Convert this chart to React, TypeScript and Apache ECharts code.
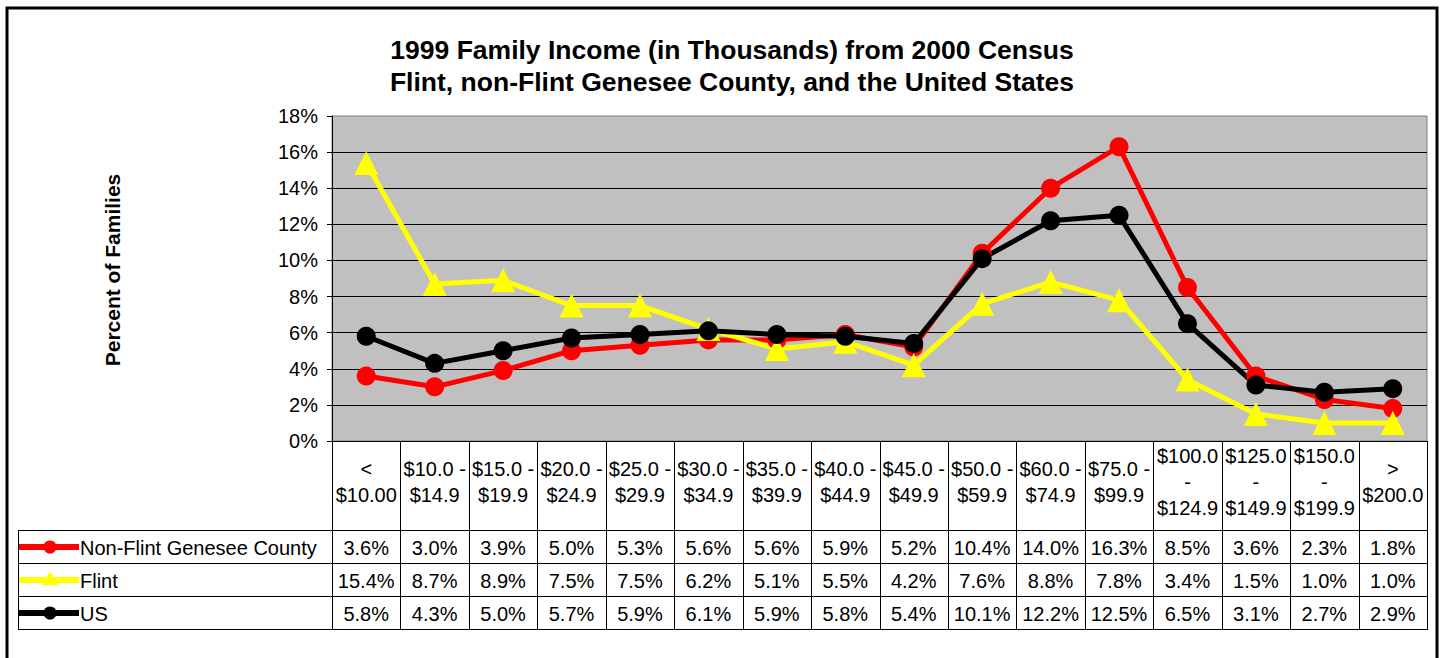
import React, { useEffect, useRef } from "react";
import * as echarts from "echarts";

const categories = [
  "<\n$10.00", "$10.0 -\n$14.9", "$15.0 -\n$19.9", "$20.0 -\n$24.9",
  "$25.0 -\n$29.9", "$30.0 -\n$34.9", "$35.0 -\n$39.9", "$40.0 -\n$44.9",
  "$45.0 -\n$49.9", "$50.0 -\n$59.9", "$60.0 -\n$74.9", "$75.0 -\n$99.9",
  "$100.0\n-\n$124.9", "$125.0\n-\n$149.9", "$150.0\n-\n$199.9", ">\n$200.0",
];
const nonFlint = [3.6, 3.0, 3.9, 5.0, 5.3, 5.6, 5.6, 5.9, 5.2, 10.4, 14.0, 16.3, 8.5, 3.6, 2.3, 1.8];
const flint = [15.4, 8.7, 8.9, 7.5, 7.5, 6.2, 5.1, 5.5, 4.2, 7.6, 8.8, 7.8, 3.4, 1.5, 1.0, 1.0];
const us = [5.8, 4.3, 5.0, 5.7, 5.9, 6.1, 5.9, 5.8, 5.4, 10.1, 12.2, 12.5, 6.5, 3.1, 2.7, 2.9];
const seriesNames = ["Non-Flint Genesee County", "Flint", "US"];
const yTicks = { min: 0, max: 18, interval: 2 };
const titleText = "1999 Family Income (in Thousands) from 2000 Census\nFlint, non-Flint Genesee County, and the United States";
const yAxisTitle = "Percent of Families";

const W = 1442, H = 658;
const GL = 332, GR = 1427, GT = 116, GB = 441;
const ROW_TOP = 530, ROW_H = 33, LEG_L = 18;
const FONT = "'Liberation Sans', Arial, sans-serif";

export default function App() {
  const ref = useRef<HTMLDivElement>(null);
  useEffect(() => {
    if (!ref.current) return;
    const chart = echarts.init(ref.current, null, { renderer: "svg" });
    const data = [nonFlint, flint, us];
    const colors = ["#FF0000", "#FFFF00", "#000000"];
    const symbols = ["circle", "triangle", "circle"];
    const symSizes = [19, 24, 19];
    const n = categories.length;
    const colW = (GR - GL) / n;
    const graphics: any[] = [];
    // outer frame
    graphics.push({ type: "rect", shape: { x: 7, y: 8, width: 1430, height: 700 }, style: { fill: "none", stroke: "#000", lineWidth: 3 }, silent: true });
    // vertical table lines
    for (let i = 0; i <= n; i++) {
      const x = Math.round(GL + i * colW) + 0.5;
      graphics.push({ type: "line", shape: { x1: x, y1: GB, x2: x, y2: ROW_TOP + 3 * ROW_H }, style: { stroke: "#000", lineWidth: 1 }, silent: true });
    }
    graphics.push({ type: "line", shape: { x1: LEG_L + 0.5, y1: ROW_TOP, x2: LEG_L + 0.5, y2: ROW_TOP + 3 * ROW_H }, style: { stroke: "#000", lineWidth: 1 }, silent: true });
    for (let r = 0; r <= 3; r++) {
      const y = ROW_TOP + r * ROW_H + 0.5;
      graphics.push({ type: "line", shape: { x1: LEG_L, y1: y, x2: GR + 1, y2: y }, style: { stroke: "#000", lineWidth: 1 }, silent: true });
    }
    // rows
    for (let s = 0; s < 3; s++) {
      const cy = ROW_TOP + s * ROW_H + ROW_H / 2 + 0.5;
      graphics.push({ type: "line", shape: { x1: LEG_L + 1, y1: cy, x2: 79, y2: cy }, style: { stroke: colors[s], lineWidth: 6 }, silent: true });
      if (symbols[s] === "circle") {
        graphics.push({ type: "circle", shape: { cx: 50, cy, r: 6.5 }, style: { fill: colors[s] }, silent: true });
      } else {
        graphics.push({ type: "polygon", shape: { points: [[50, cy - 9], [42, cy + 5], [58, cy + 5]] }, style: { fill: colors[s] }, silent: true });
      }
      graphics.push({ type: "text", x: 80, y: cy + 1, style: { text: seriesNames[s], fill: "#000", fontSize: 20, fontFamily: FONT, align: "left", verticalAlign: "middle" }, silent: true });
      data[s].forEach((v, i) => {
        graphics.push({ type: "text", x: GL + (i + 0.5) * colW, y: cy + 1, style: { text: v.toFixed(1) + "%", fill: "#000", fontSize: 20, fontFamily: FONT, align: "center", verticalAlign: "middle" }, silent: true });
      });
    }
    // y axis title
    graphics.push({ type: "text", x: 112, y: 270, rotation: Math.PI / 2, style: { text: yAxisTitle, fill: "#000", fontSize: 21, fontWeight: "bold", fontFamily: FONT, align: "center", verticalAlign: "middle" }, silent: true });

    chart.setOption({
      animation: false,
      backgroundColor: "#fff",
      title: {
        text: titleText, left: 727, top: 29, textAlign: "center",
        textStyle: { fontSize: 26.5, fontWeight: "bold", fontFamily: FONT, color: "#000", lineHeight: 32 },
      },
      grid: { left: GL, right: W - GR, top: GT, bottom: H - GB, show: true, backgroundColor: "#C0C0C0", borderColor: "#808080", borderWidth: 1 },
      xAxis: {
        type: "category", data: categories, boundaryGap: true,
        axisLine: { lineStyle: { color: "#000", width: 1 } },
        axisTick: { show: false },
        axisLabel: { interval: 0, margin: 41, verticalAlign: "middle", lineHeight: 26, fontSize: 20, fontFamily: FONT, color: "#000" },
      },
      yAxis: {
        type: "value", min: yTicks.min, max: yTicks.max, interval: yTicks.interval,
        axisLine: { show: true, lineStyle: { color: "#000", width: 1 } },
        axisTick: { show: true, inside: false, length: 5, lineStyle: { color: "#000" } },
        axisLabel: { formatter: "{value}%", fontSize: 20, fontFamily: FONT, color: "#000", margin: 14 },
        splitLine: { show: true, showMaxLine: false, lineStyle: { color: "#000", width: 1 } },
      },
      series: data.map((d, s) => ({
        name: seriesNames[s], type: "line", data: d,
        symbol: symbols[s], symbolSize: symSizes[s], showSymbol: true,
        lineStyle: { color: colors[s], width: 5 },
        itemStyle: { color: colors[s] },
        emphasis: { disabled: true },
      })),
      graphic: graphics,
    });
    return () => chart.dispose();
  }, []);
  return <div ref={ref} style={{ position: "absolute", left: 0, top: 0, width: W, height: H }} />;
}
